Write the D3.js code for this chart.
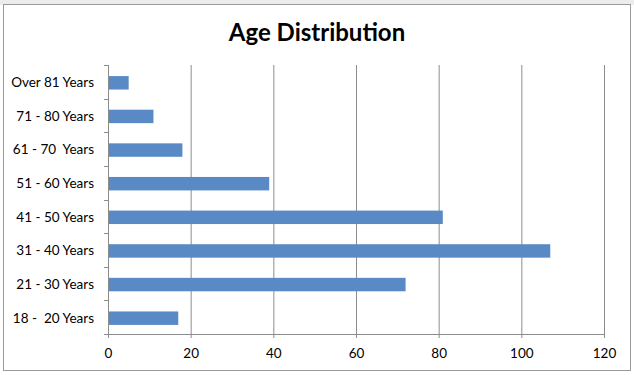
<!DOCTYPE html>
<html>
<head>
<meta charset="utf-8">
<script src="https://cdn.jsdelivr.net/npm/d3@7"></script>
<style>
  body { margin: 0; background: #fff; }
</style>
</head>
<body>
<div id="canvas"></div>
<script>
"use strict"

/* Chart data */
let categories = ["Over 81 Years", "71 - 80 Years", "61 - 70  Years", "51 - 60 Years",
                  "41 - 50 Years", "31 - 40 Years", "21 - 30 Years", "18 -  20 Years"];
let counts = [5, 11, 18, 39, 81, 107, 72, 17];
let xTicks = [0, 20, 40, 60, 80, 100, 120];

/* Drawing config */
let svgWidth = 634;
let svgHeight = 375;
let plotLeft = 108;
let plotRight = 604;
let plotTop = 65;
let plotBottom = 334;
let barColor = "#5a8ac6";
let gridColor = "#8c8c8c";
let fontFamily = "Lato, 'Open Sans', sans-serif";

let svg = d3.select("#canvas")
    .append("svg")
    .attr("width", svgWidth)
    .attr("height", svgHeight);

/* light strip at the top, chart frame */
svg.append("rect")
    .attr("width", svgWidth)
    .attr("height", 5)
    .attr("fill", "#ececec");

svg.append("rect")
    .attr("x", 3.5)
    .attr("y", 4.5)
    .attr("width", 627)
    .attr("height", 366)
    .attr("fill", "white")
    .attr("stroke", "#9a9a9a");

/* scales */
let xScale = d3.scaleLinear()
    .domain([0, 120])
    .range([plotLeft, plotRight]);

let yScale = d3.scaleBand()
    .domain(categories)
    .range([plotTop + 1, plotBottom + 1])
    .paddingInner(0.6)
    .paddingOuter(0.3);

/* vertical grid lines + bottom ticks */
let xAxis = d3.axisBottom(xScale)
    .tickValues(xTicks)
    .tickSize(-(plotBottom - plotTop))
    .tickSizeOuter(0)
    .tickPadding(14);

let xAxisG = svg.append("g")
    .attr("transform", "translate(0," + plotBottom + ")")
    .call(xAxis);

xAxisG.select(".domain").attr("stroke", gridColor);
xAxisG.selectAll(".tick line")
    .attr("stroke", gridColor)
    .attr("y2", -(plotBottom - plotTop))
    .attr("y1", 4);
xAxisG.selectAll(".tick text")
    .style("font-family", fontFamily)
    .style("font-size", "13.5px")
    .attr("fill", "black");

/* category axis on the left */
let yAxis = d3.axisLeft(yScale)
    .tickSize(0)
    .tickPadding(14);

let yAxisG = svg.append("g")
    .attr("transform", "translate(" + plotLeft + ",0)")
    .call(yAxis);

yAxisG.select(".domain").remove();
yAxisG.selectAll(".tick text")
    .style("font-family", fontFamily)
    .style("font-size", "13.5px")
    .style("white-space", "pre")
    .attr("fill", "black");

svg.append("line")
    .attr("x1", plotLeft + 0.5)
    .attr("x2", plotLeft + 0.5)
    .attr("y1", plotTop)
    .attr("y2", plotBottom)
    .attr("stroke", gridColor);

/* small tick marks between categories */
for (let i = 0; i <= categories.length; i++) {
    let y = Math.round(plotTop + i * (plotBottom - plotTop) / categories.length) + 0.5;
    svg.append("line")
        .attr("x1", plotLeft - 4)
        .attr("x2", plotLeft)
        .attr("y1", y)
        .attr("y2", y)
        .attr("stroke", gridColor);
}

/* bars */
svg.selectAll("rect.bar")
    .data(categories)
    .join("rect")
    .attr("class", "bar")
    .attr("x", xScale(0) + 1)
    .attr("y", function (d) { return yScale(d); })
    .attr("width", function (d, i) { return xScale(counts[i]) - xScale(0) - 1; })
    .attr("height", yScale.bandwidth())
    .attr("fill", barColor);

/* title */
svg.append("text")
    .attr("x", 317)
    .attr("y", 41)
    .attr("text-anchor", "middle")
    .style("font-family", fontFamily)
    .style("font-weight", "bold")
    .style("font-size", "24px")
    .text("Age Distribution");
</script>
</body>
</html>
